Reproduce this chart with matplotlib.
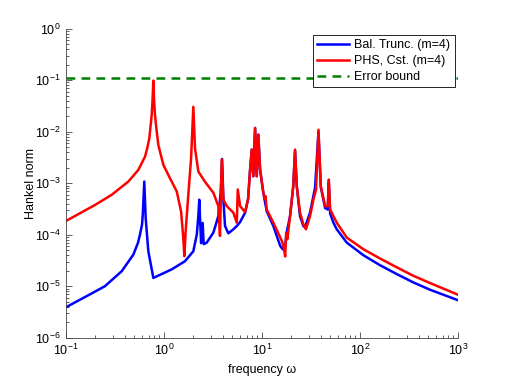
import matplotlib
matplotlib.use('Agg')
import matplotlib.pyplot as plt
import numpy as np

plt.rcParams['font.family'] = ['Liberation Sans', 'DejaVu Sans']
plt.rcParams['mathtext.fontset'] = 'custom'
plt.rcParams['mathtext.rm'] = 'Liberation Sans'
plt.rcParams['mathtext.it'] = 'Liberation Sans:italic'

# values
freq_bal = [0.100, 0.191, 0.251, 0.372, 0.489, 0.545, 0.571, 0.600, 0.610, 0.632, 0.653,
            0.695, 0.782, 1.20, 1.644, 2.00, 2.17, 2.25, 2.30, 2.40, 2.49, 2.55, 2.74, 3.20,
            3.60, 3.80, 3.93, 4.05, 4.21, 4.55, 5.12, 5.55, 6.00, 6.75, 7.24, 7.59, 7.89,
            8.18, 8.53, 8.87, 9.20, 9.59, 10.35, 11.2, 13.1, 15.4, 16.3, 17.3, 17.9, 19.4,
            20.9, 21.8, 22.7, 24.5, 26.5, 27.5, 31.0, 34.9, 37.8, 39.9, 44.2, 47.0, 48.2,
            49.7, 53.7, 58.1, 73.5, 108.6, 160.7, 238, 352, 520, 1000]
hankel_bal = [3.92e-6, 7.6e-6, 1.01e-5, 1.97e-5, 4.14e-5, 7.0e-5, 1.01e-4, 1.6e-4, 2.45e-4,
              1.08e-3, 2.11e-4, 4.8e-5, 1.46e-5, 2.13e-5, 3.08e-5, 4.8e-5, 1.01e-4, 2.31e-4,
              4.79e-4, 6.9e-5, 1.70e-4, 6.6e-5, 7.06e-5, 1.10e-4, 2.31e-4, 6.55e-4, 2.96e-3,
              4.85e-4, 1.48e-4, 1.07e-4, 1.28e-4, 1.48e-4, 1.77e-4, 2.69e-4, 5.0e-4, 1.85e-3,
              4.5e-3, 1.37e-3, 1.18e-2, 1.37e-3, 8.75e-3, 1.85e-3, 6.55e-4, 2.88e-4, 1.48e-4,
              6.08e-5, 5.25e-5, 6.08e-5, 1.10e-4, 2.31e-4, 8.8e-4, 4.3e-3, 8.8e-4, 2.3e-4,
              1.48e-4, 1.4e-4, 2.69e-4, 8.2e-4, 1.0e-2, 8.5e-4, 3.3e-4, 3.1e-4, 1.0e-3,
              2.6e-4, 1.72e-4, 1.28e-4, 7.06e-5, 4.02e-5, 2.57e-5, 1.73e-5, 1.19e-5, 8.6e-6,
              5.4e-6]

freq_phs = [0.100, 0.199, 0.294, 0.435, 0.550, 0.643, 0.676, 0.711, 0.752, 0.767, 0.782,
            0.796, 0.813, 0.841, 0.879, 0.989, 1.156, 1.355, 1.50, 1.58, 1.62, 1.67, 1.778,
            1.897, 2.00, 2.08, 2.25, 2.63, 3.20, 3.60, 3.74, 3.90, 4.05, 4.39, 5.12, 5.55,
            5.68, 6.00, 6.75, 7.24, 7.59, 7.89, 8.18, 8.53, 8.87, 9.20, 9.59, 10.35, 10.8,
            10.9, 11.2, 13.1, 16.0, 16.6, 17.3, 17.7, 18.2, 19.4, 20.9, 21.8, 22.7, 24.5,
            26.5, 28.2, 31.0, 33.6, 35.7, 37.8, 39.9, 44.2, 47.0, 48.2, 49.7, 53.7, 58.1,
            73.5, 108.6, 160.7, 238, 352, 520, 1000]
hankel_phs = [1.85e-4, 3.80e-4, 5.98e-4, 1.08e-3, 1.82e-3, 3.29e-3, 4.7e-3, 7.41e-3, 2.10e-2,
              4.0e-2, 9.8e-2, 4.0e-2, 2.10e-2, 1.12e-2, 5.53e-3, 2.28e-3, 1.25e-3, 6.93e-4,
              2.84e-4, 8.7e-5, 3.85e-5, 1.17e-4, 5.98e-4, 3.05e-3, 3.04e-2, 4.75e-3, 1.69e-3,
              1.07e-3, 6.55e-4, 3.6e-4, 9.5e-5, 2.88e-3, 4.85e-4, 3.6e-4, 2.69e-4, 1.72e-4,
              7.57e-4, 3.6e-4, 2.76e-4, 5.0e-4, 1.85e-3, 4.5e-3, 1.37e-3, 1.18e-2, 1.37e-3,
              8.75e-3, 1.85e-3, 6.55e-4, 5.0e-4, 5.6e-4, 3.11e-4, 1.72e-4, 7.6e-5, 6.1e-5,
              3.8e-5, 1.10e-4, 8.2e-5, 2.31e-4, 8.8e-4, 4.5e-3, 8.8e-4, 2.69e-4, 1.6e-4,
              1.28e-4, 2.31e-4, 4.85e-4, 7.57e-4, 1.09e-2, 8.8e-4, 3.6e-4, 3.6e-4, 1.18e-3,
              3.11e-4, 2.31e-4, 1.72e-4, 8.83e-5, 5.25e-5, 3.47e-5, 2.34e-5, 1.60e-5,
              1.16e-5, 6.9e-6]

error_bound = 0.109
labels = ['Bal. Trunc. (m=4)', 'PHS, Cst. (m=4)', 'Error bound']

fig = plt.figure(figsize=(5.06, 3.81), dpi=100)
ax = fig.add_axes([0.13, 0.113, 0.775, 0.812])

ax.loglog(freq_bal, hankel_bal, color='#0000ff', lw=1.8, label=labels[0],
          solid_joinstyle='round')
ax.loglog(freq_phs, hankel_phs, color='#ff0000', lw=1.8, label=labels[1],
          solid_joinstyle='round')
ax.axhline(error_bound, color='#007f00', lw=1.8, ls=(0, (3.5, 2.5)), label=labels[2])

ax.set_xlim(0.1, 1000)
ax.set_ylim(1e-6, 1)
ax.set_xlabel('frequency ω', fontsize=9)
ax.set_ylabel('Hankel norm', fontsize=9, labelpad=-1)

for s in ['top', 'right']:
    ax.spines[s].set_visible(False)
for s in ['left', 'bottom']:
    ax.spines[s].set_color('#444444')
    ax.spines[s].set_linewidth(0.6)
ax.tick_params(which='both', direction='in', colors='#444444', labelcolor='black',
               labelsize=9, width=0.6)
ax.tick_params(which='major', length=4)
ax.tick_params(which='minor', length=2)

leg = ax.legend(loc='upper right', bbox_to_anchor=(0.992, 0.979), fontsize=9,
                fancybox=False, framealpha=1, edgecolor='black', handlelength=2.6,
                borderpad=0.35, labelspacing=0.3, handletextpad=0.4, borderaxespad=0)
leg.get_frame().set_linewidth(0.6)

fig.savefig('out.png', dpi=100)
